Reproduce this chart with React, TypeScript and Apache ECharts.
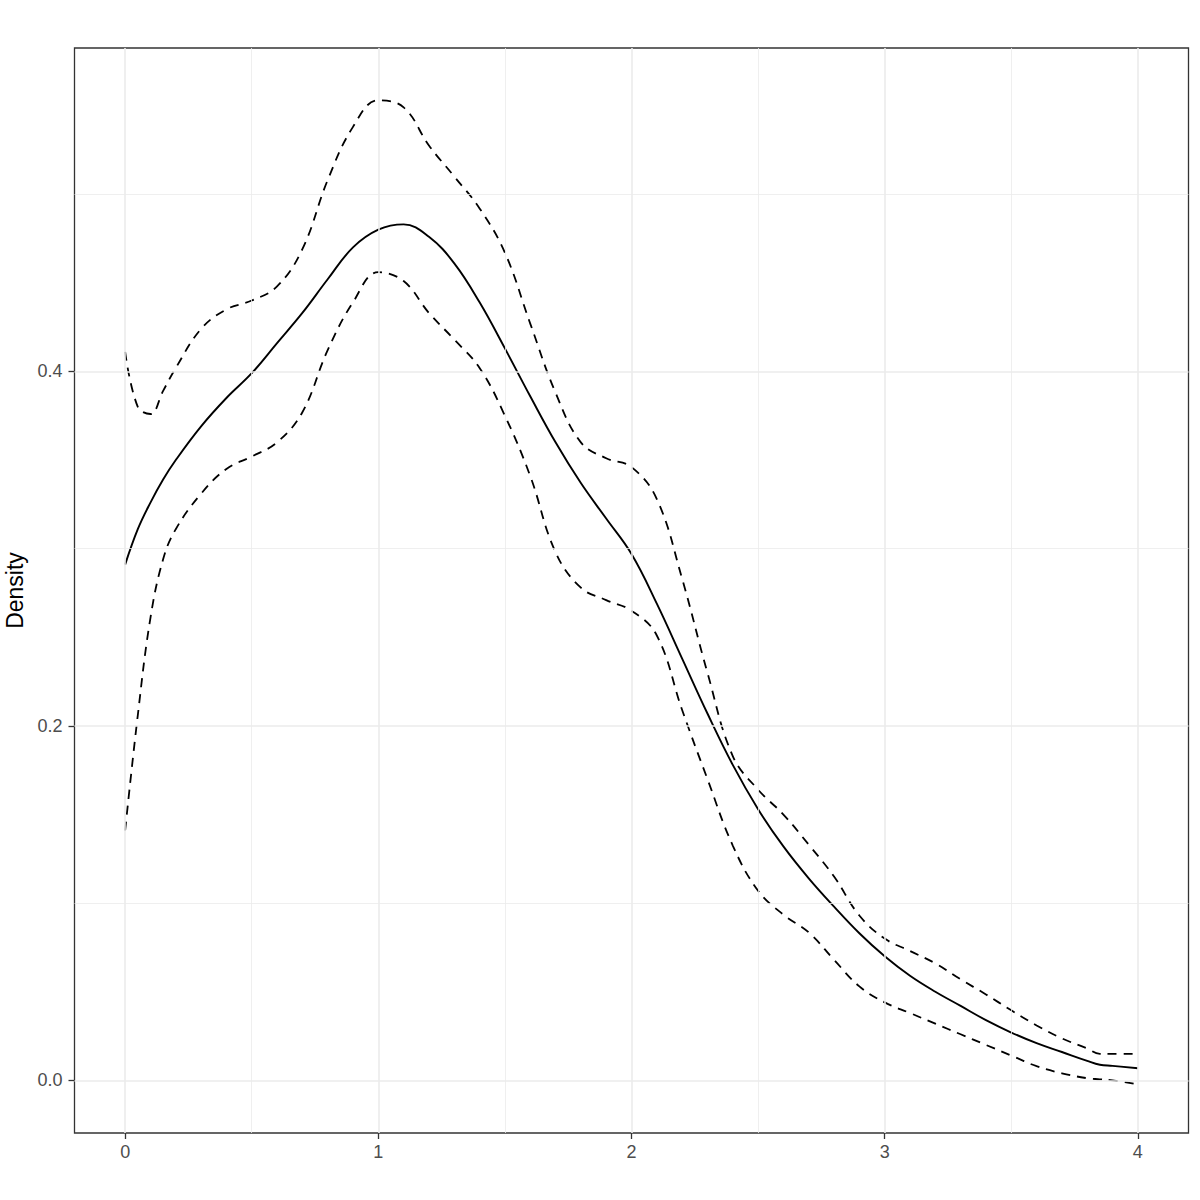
import React, { useEffect, useRef } from "react";
import * as echarts from "echarts";

// x positions of the density estimate
const xs = [
  0, 0.05, 0.1, 0.15, 0.2, 0.3, 0.4, 0.5, 0.6, 0.7, 0.8, 0.9, 1.0, 1.1, 1.2, 1.3, 1.4, 1.5,
  1.6, 1.7, 1.8, 1.9, 2.0, 2.1, 2.2, 2.3, 2.4, 2.5, 2.6, 2.7, 2.8, 2.9, 3.0, 3.1, 3.2, 3.3,
  3.4, 3.5, 3.6, 3.7, 3.8, 3.85, 3.9, 4.0,
];

// estimate (solid)
const estimate = [
  0.291, 0.311, 0.326, 0.339, 0.350, 0.369, 0.385, 0.399, 0.416, 0.433, 0.452, 0.470, 0.480,
  0.483, 0.476, 0.461, 0.439, 0.413, 0.386, 0.360, 0.337, 0.317, 0.297, 0.269, 0.238, 0.207,
  0.178, 0.153, 0.132, 0.114, 0.098, 0.083, 0.070, 0.059, 0.050, 0.042, 0.034, 0.027, 0.021,
  0.016, 0.011, 0.0088, 0.0082, 0.0068,
];

// upper confidence band (dashed)
const upper = [
  0.411, 0.380, 0.376, 0.389, 0.402, 0.424, 0.435, 0.440, 0.448, 0.469, 0.508, 0.538, 0.553,
  0.549, 0.5275, 0.510, 0.492, 0.467, 0.427, 0.388, 0.360, 0.351, 0.346, 0.328, 0.283, 0.230,
  0.183, 0.164, 0.150, 0.133, 0.115, 0.093, 0.080, 0.073, 0.066, 0.057, 0.0485, 0.0395, 0.031,
  0.0237, 0.018, 0.015, 0.015, 0.015,
];

// lower confidence band (dashed)
const lower = [
  0.141, 0.206, 0.261, 0.294, 0.311, 0.331, 0.345, 0.352, 0.360, 0.377, 0.412, 0.439, 0.456,
  0.451, 0.433, 0.418, 0.402, 0.375, 0.341, 0.298, 0.278, 0.271, 0.265, 0.251, 0.209, 0.170,
  0.1325, 0.107, 0.0935, 0.0835, 0.068, 0.053, 0.044, 0.038, 0.032, 0.026, 0.020, 0.014, 0.008,
  0.004, 0.0012, 0.0006, 0.0, -0.0023,
];

const xTicks = [0, 1, 2, 3, 4];
const yTicks = [0, 0.2, 0.4];
const xMinor = [0.5, 1.5, 2.5, 3.5];
const yMinor = [0.1, 0.3, 0.5];
const yTitle = "Density";

const pair = (ys: number[]) => xs.map((x, i) => [x, ys[i]]);

export default function App() {
  const ref = useRef<HTMLDivElement>(null);
  useEffect(() => {
    if (!ref.current) return;
    const chart = echarts.init(ref.current, null, { renderer: "svg" });
    const font = "'Liberation Sans', Arial, Helvetica, sans-serif";
    const gridLine = (v: number, axis: "xAxis" | "yAxis", w: number) => ({
      [axis]: v,
      lineStyle: { color: "#EBEBEB", width: w, type: "solid" },
    });
    chart.setOption({
      animation: false,
      backgroundColor: "#ffffff",
      grid: {
        left: 74.5,
        top: 48,
        width: 1114,
        height: 1085,
        show: true,
        borderColor: "#333333",
        borderWidth: 1.3,
        backgroundColor: "transparent",
        containLabel: false,
        outerBoundsMode: "none",
      },
      xAxis: {
        type: "value",
        min: -0.2,
        max: 4.2,
        axisLine: { show: false, onZero: false },
        axisTick: {
          show: true,
          length: 6,
          lineStyle: { color: "#333333", width: 1.3 },
          customValues: xTicks,
        },
        axisLabel: {
          customValues: xTicks,
          color: "#4D4D4D",
          fontSize: 18,
          fontFamily: font,
          margin: 10,
          formatter: (v: number) => String(v),
        },
        splitLine: { show: false },
      },
      yAxis: {
        type: "value",
        min: -0.0297,
        max: 0.5825,
        name: yTitle,
        nameLocation: "middle",
        nameGap: 44,
        nameRotate: 90,
        nameTextStyle: { color: "#000000", fontSize: 23, fontFamily: font },
        axisLine: { show: false, onZero: false },
        axisTick: {
          show: true,
          length: 6,
          lineStyle: { color: "#333333", width: 1.3 },
          customValues: yTicks,
        },
        axisLabel: {
          customValues: yTicks,
          color: "#4D4D4D",
          fontSize: 18,
          fontFamily: font,
          margin: 12,
          formatter: (v: number) => v.toFixed(1),
        },
        splitLine: { show: false },
      },
      series: [
        {
          type: "line",
          data: [],
          silent: true,
          z: 1,
          markLine: {
            silent: true,
            symbol: "none",
            label: { show: false },
            emphasis: { disabled: true },
            animation: false,
            data: [
              ...xMinor.map((v) => gridLine(v, "xAxis", 0.8)),
              ...yMinor.map((v) => gridLine(v, "yAxis", 0.8)),
              ...xTicks.map((v) => gridLine(v, "xAxis", 1.6)),
              ...yTicks.map((v) => gridLine(v, "yAxis", 1.6)),
            ],
          },
        },
        {
          type: "line",
          name: "upper",
          data: pair(upper),
          showSymbol: false,
          symbol: "none",
          smooth: 0.4,
          z: 3,
          silent: true,
          lineStyle: { color: "#000000", width: 1.8, type: [9, 7] },
        },
        {
          type: "line",
          name: "lower",
          data: pair(lower),
          showSymbol: false,
          symbol: "none",
          smooth: 0.4,
          z: 3,
          silent: true,
          lineStyle: { color: "#000000", width: 1.8, type: [9, 7] },
        },
        {
          type: "line",
          name: "estimate",
          data: pair(estimate),
          showSymbol: false,
          symbol: "none",
          smooth: 0.4,
          z: 4,
          silent: true,
          lineStyle: { color: "#000000", width: 1.9, type: "solid" },
        },
      ],
    });
    return () => chart.dispose();
  }, []);
  return (
    <div
      ref={ref}
      style={{ position: "absolute", left: 0, top: 0, width: 1200, height: 1200, background: "#fff" }}
    />
  );
}
